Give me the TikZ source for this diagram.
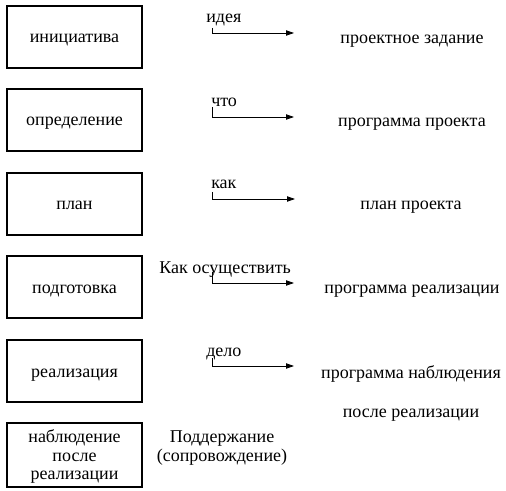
\documentclass[tikz,border=0pt]{standalone}
\usepackage{fontspec}
\setmainfont{Liberation Serif}
\usetikzlibrary{arrows.meta}
\begin{document}
\begin{tikzpicture}[>={Triangle[length=6pt,width=4pt]},x=0.75pt,y=-0.75pt,
	txt/.style={inner sep=0pt,font=\fontsize{13.5}{13.9}\selectfont},
	box/.style={txt,draw,line width=0.8pt,minimum width=101.25pt,minimum height=46.5pt,align=center},
	stage/.style={box,text height=9pt,text depth=0pt}]
	\useasboundingbox (0,0) rectangle (506,491);
	% stages
	\node[stage] (init) at (74.5,37) {инициатива};
	\node[stage] (defn) at (74.5,120) {определение};
	\node[stage] (plan) at (74.5,204) {план};
	\node[stage] (prep) at (74.5,287) {подготовка};
	\node[stage] (real) at (74.5,371) {реализация};
	\node[box,minimum height=48pt,text depth=0pt] (watch) at (74.5,455) {наблюдение\\после\\реализации};
	% questions
	\node[txt,anchor=base west] (idea) at (206,23) {идея};
	\node[txt,anchor=base west] (what) at (211,107) {что};
	\node[txt,anchor=base west] (how) at (211,189) {как};
	\node[txt,anchor=base west] (howdo) at (159,273) {Как осуществить};
	\node[txt,anchor=base west] (deed) at (206,356) {дело};
	\node[txt,align=center] (supp) at (222,448) {Поддержание\\(сопровождение)};
	% results
	\node[txt,anchor=base] (task) at (412,44) {проектное задание};
	\node[txt,anchor=base] (prog) at (412,127) {программа проекта};
	\node[txt,anchor=base] (pplan) at (411,210) {план проекта};
	\node[txt,anchor=base] (rprog) at (412,293) {программа реализации};
	\node[txt,anchor=base] (wprog) at (411,378) {программа наблюдения};
	\node[txt,anchor=base] (after) at (411,417) {после реализации};
	% arrows
	\coordinate (s1) at (212,28);  \coordinate (e1) at (294,33);
	\coordinate (s2) at (212,107); \coordinate (e2) at (294,117);
	\coordinate (s3) at (212,192); \coordinate (e3) at (295,199);
	\coordinate (s4) at (212,272); \coordinate (e4) at (294,283);
	\coordinate (s5) at (212,358); \coordinate (e5) at (294,366);
	\draw[->,line width=0.6pt] (s1) |- (e1);
	\draw[->,line width=0.6pt] (s2) |- (e2);
	\draw[->,line width=0.6pt] (s3) |- (e3);
	\draw[->,line width=0.6pt] (s4) |- (e4);
	\draw[->,line width=0.6pt] (s5) |- (e5);
\end{tikzpicture}
\end{document}
